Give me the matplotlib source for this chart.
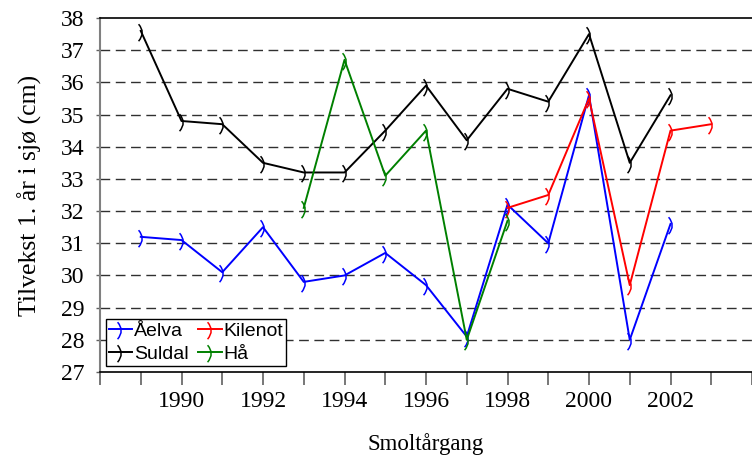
import matplotlib
matplotlib.use('Agg')
import matplotlib.pyplot as plt
from matplotlib.path import Path
import numpy as np

# data
aar_aelva = [1989, 1990, 1991, 1992, 1993, 1994, 1995, 1996, 1997, 1998, 1999, 2000, 2001, 2002]
aelva = [31.2, 31.1, 30.1, 31.5, 29.8, 30.0, 30.7, 29.7, 28.1, 32.2, 31.0, 35.6, 28.0, 31.6]

aar_suldal = [1989, 1990, 1991, 1992, 1993, 1994, 1995, 1996, 1997, 1998, 1999, 2000, 2001, 2002]
suldal = [37.6, 34.8, 34.7, 33.5, 33.2, 33.2, 34.5, 35.9, 34.2, 35.8, 35.4, 37.5, 33.5, 35.6]

aar_kilenot = [1998, 1999, 2000, 2001, 2002, 2003]
kilenot = [32.1, 32.5, 35.5, 29.7, 34.5, 34.7]

aar_haa = [1993, 1994, 1995, 1996, 1997, 1998]
haa = [32.1, 36.7, 33.1, 34.5, 28.0, 31.7]

# markor som ser ut som en parentes ")"
parentes = Path([(-0.3, 0.75), (0.45, -0.1), (-0.3, -1.0)],
                [Path.MOVETO, Path.CURVE3, Path.CURVE3])

fig = plt.figure(figsize=(7.52, 4.57), dpi=100)
ax = fig.add_axes([100/752, 1 - 372/457, 1 - 100/752, (372 - 18)/457])

serif = 'Liberation Serif'
sans = 'Liberation Sans'

for aar, verdi, farge, navn in [(aar_aelva, aelva, 'blue', 'Åelva'),
                                 (aar_suldal, suldal, 'black', 'Suldal'),
                                 (aar_kilenot, kilenot, 'red', 'Kilenot'),
                                 (aar_haa, haa, 'green', 'Hå')]:
    ax.plot(aar, verdi, color=farge, lw=1.4, marker=parentes, markersize=14,
            markerfacecolor='none', markeredgecolor=farge, markeredgewidth=1.1,
            label=navn, zorder=3)

# gitter
for y in range(28, 38):
    ax.axhline(y, color='#303030', lw=1.0, dashes=(7, 4), zorder=1)

ax.set_xlim(1988, 2004)
ax.set_ylim(27, 38)
ax.set_xticks(np.arange(1988, 2005, 1))
ax.set_xticklabels(['' if (t % 2 == 1 or t in (1988, 2004)) else str(t) for t in range(1988, 2005)],
                   fontfamily=serif, fontsize=17)
ax.set_yticks(np.arange(27, 39, 1))
ax.set_yticklabels([str(v) for v in range(27, 39)], fontfamily=serif, fontsize=17)

ax.tick_params(axis='x', direction='out', length=9, width=1.2, color='#606060', pad=5)
ax.tick_params(axis='y', direction='out', length=3, width=1.0, color='#606060', pad=8)

ax.spines['right'].set_visible(False)
ax.spines['left'].set_color('#808080')
ax.spines['left'].set_linewidth(1.5)
ax.spines['bottom'].set_linewidth(1.2)
ax.spines['top'].set_linewidth(1.2)

ax.set_ylabel('Tilvekst 1. år i sjø (cm)', fontfamily=serif, fontsize=18.5, labelpad=14)
ax.set_xlabel('Smoltårgang', fontfamily=serif, fontsize=16.5, labelpad=15)

leg = ax.legend(loc='lower left', ncol=2, prop={'family': sans, 'size': 14},
                frameon=True, fancybox=False, edgecolor='black', framealpha=1,
                handlelength=1.2, handletextpad=0.1, columnspacing=0.5,
                borderpad=0.15, labelspacing=0.3, borderaxespad=0.3)
leg.get_frame().set_linewidth(1.0)
leg.set_zorder(5)

fig.savefig('out.png', dpi=100)
